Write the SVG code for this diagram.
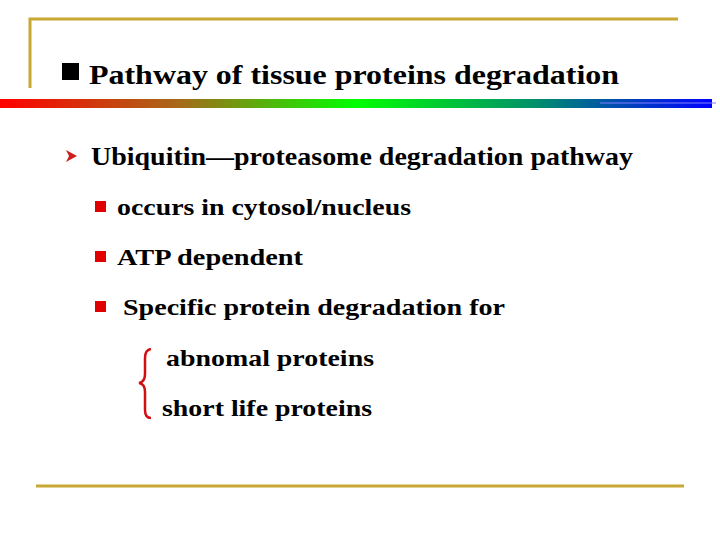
<svg xmlns="http://www.w3.org/2000/svg" width="720" height="540" viewBox="0 0 720 540">
<defs>
<linearGradient id="rb" x1="0" x2="1" y1="0" y2="0">
<stop offset="0" stop-color="#ff0000"/><stop offset="0.25" stop-color="#a86818"/><stop offset="0.5" stop-color="#00ff00"/><stop offset="0.75" stop-color="#00906a"/><stop offset="1" stop-color="#0000ff"/>
</linearGradient>
<style>
text{font-family:"Liberation Serif","Times New Roman",serif;font-weight:bold;fill:#000}
.t{font-size:28px}.h{font-size:26px}.s{font-size:24px}
.gold{stroke:#c8a832;stroke-width:3;fill:none}
.red{fill:#e00000}
</style>
</defs>
<g id="frame">
<path class="gold" d="M30,88 V19 H678"/>
<path class="gold" d="M36,486 H684"/>
<rect x="0" y="99" width="712" height="9" fill="url(#rb)"/>
<line x1="600" y1="103" x2="716" y2="103" stroke="#8080ff" stroke-width="1"/>
</g>
<g id="title">
<rect x="62" y="63" width="17" height="17" fill="#000"/>
<text class="t" x="89" y="84" textLength="530" lengthAdjust="spacingAndGlyphs">Pathway of tissue proteins degradation</text>
</g>
<g id="heading">
<path d="M66,150 L77,156 L66,162 L69,156 Z" fill="#cc2020"/>
<text class="h" x="91" y="165" textLength="542" lengthAdjust="spacingAndGlyphs">Ubiquitin—proteasome degradation pathway</text>
</g>
<g id="items">
<rect class="red" x="95" y="201" width="11" height="11"/>
<text class="s" x="117" y="215" textLength="294" lengthAdjust="spacingAndGlyphs">occurs in cytosol/nucleus</text>
<rect class="red" x="95" y="251" width="11" height="11"/>
<text class="s" x="117" y="265" textLength="186" lengthAdjust="spacingAndGlyphs">ATP dependent</text>
<rect class="red" x="95" y="301" width="11" height="11"/>
<text class="s" x="123" y="315" textLength="382" lengthAdjust="spacingAndGlyphs">Specific protein degradation for</text>
</g>
<g id="brace">
<path d="M151,349 Q145,350 145,358 V374 Q145,382 139,383 Q145,384 145,392 V410 Q145,418 151,418" fill="none" stroke="#d01010" stroke-width="2.5"/>
<text class="s" x="166" y="366" textLength="208" lengthAdjust="spacingAndGlyphs">abnomal proteins</text>
<text class="s" x="162" y="416" textLength="210" lengthAdjust="spacingAndGlyphs">short life proteins</text>
</g>
</svg>
